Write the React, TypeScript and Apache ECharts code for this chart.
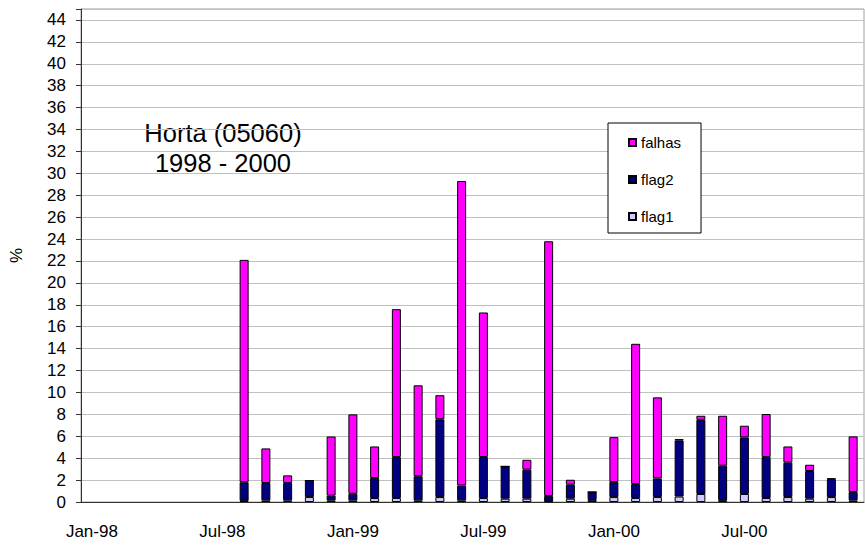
import React, { useEffect, useRef } from 'react';
import * as echarts from 'echarts';

const months = [
  'Jan-98', 'Feb-98', 'Mar-98', 'Apr-98', 'May-98', 'Jun-98', 'Jul-98', 'Aug-98', 'Sep-98', 'Oct-98', 'Nov-98', 'Dec-98',
  'Jan-99', 'Feb-99', 'Mar-99', 'Apr-99', 'May-99', 'Jun-99', 'Jul-99', 'Aug-99', 'Sep-99', 'Oct-99', 'Nov-99', 'Dec-99',
  'Jan-00', 'Feb-00', 'Mar-00', 'Apr-00', 'May-00', 'Jun-00', 'Jul-00', 'Aug-00', 'Sep-00', 'Oct-00', 'Nov-00', 'Dec-00',
];

const flag1 = [
  null, null, null, null, null, null, null, 0.1, 0.15, 0.15, 0.45, 0.15,
  0.15, 0.36, 0.36, 0.15, 0.45, 0.15, 0.36, 0.3, 0.3, 0.05, 0.3, 0.19,
  0.45, 0.36, 0.45, 0.5, 0.73, 0.17, 0.73, 0.36, 0.45, 0.3, 0.45, 0.15,
];

const flag2 = [
  null, null, null, null, null, null, null, 1.7, 1.58, 1.58, 1.5, 0.43,
  0.6, 1.83, 3.74, 2.2, 7.1, 1.35, 3.74, 2.95, 2.65, 0.5, 1.28, 0.72,
  1.37, 1.28, 1.7, 5.13, 6.77, 3.14, 5.17, 3.74, 3.14, 2.53, 1.64, 0.76,
];

const falhas = [
  null, null, null, null, null, null, null, 20.3, 3.16, 0.7, 0, 5.4,
  7.25, 2.88, 13.5, 8.3, 2.2, 27.8, 13.2, 0, 0.9, 23.25, 0.45, 0,
  4.1, 12.8, 7.4, 0.12, 0.37, 4.56, 1.06, 3.93, 1.48, 0.57, 0.06, 5.08,
];

const legendOrder = ['falhas', 'flag2', 'flag1'];
const titleLines = ['Horta (05060)', '1998 - 2000'];

const FONT = 'Liberation Sans, Arial, sans-serif';

export default function App() {
  const ref = useRef<HTMLDivElement>(null);
  useEffect(() => {
    if (!ref.current) return;
    const chart = echarts.init(ref.current, undefined, { renderer: 'svg' });
    const barStyle = (color: string) => ({
      color,
      borderColor: '#000',
      borderWidth: 1,
    });
    chart.setOption({
      animation: false,
      backgroundColor: '#fff',
      textStyle: { fontFamily: FONT },
      grid: {
        left: 73,
        top: 9,
        right: 1,
        bottom: 44,
        show: true,
        borderColor: '#a0a0a0',
        borderWidth: 1,
      },
      legend: {
        data: legendOrder,
        orient: 'vertical',
        left: 608,
        top: 123,
        itemWidth: 7,
        itemHeight: 7,
        itemGap: 22,
        padding: [12, 20, 9, 20],
        backgroundColor: '#fff',
        borderColor: '#000',
        borderWidth: 1,
        borderRadius: 0,
        icon: 'rect',
        textStyle: { fontFamily: FONT, fontSize: 15, color: '#000', lineHeight: 15 },
      },
      graphic: [
        {
          type: 'text',
          x: 223,
          y: 118,
          style: {
            text: titleLines.join('\n'),
            align: 'center',
            verticalAlign: 'top',
            fontFamily: FONT,
            fontSize: 25.5,
            lineHeight: 30,
            fill: '#000',
          },
        },
      ],
      xAxis: {
        type: 'category',
        data: months,
        boundaryGap: true,
        axisLine: { lineStyle: { color: '#333', width: 1 } },
        axisTick: { interval: 5, length: 6, lineStyle: { color: '#333' } },
        axisLabel: { interval: 5, fontSize: 17, color: '#000', margin: 21, fontFamily: FONT },
        splitLine: { show: false },
      },
      yAxis: {
        type: 'value',
        min: 0,
        max: 45,
        interval: 2,
        name: '%',
        nameLocation: 'middle',
        nameGap: 56,
        nameRotate: 90,
        nameTextStyle: { fontSize: 17, color: '#000', fontFamily: FONT },
        axisLine: { show: true, lineStyle: { color: '#333', width: 1 } },
        axisTick: { show: true, length: 5, lineStyle: { color: '#333' } },
        axisLabel: {
          fontSize: 17,
          color: '#000',
          margin: 15,
          fontFamily: FONT,
          formatter: (v: number) => (v % 2 === 0 ? String(v) : ''),
        },
        splitLine: { show: true, lineStyle: { color: '#c0c0c0', width: 1 } },
      },
      series: [
        { name: 'flag1', type: 'bar', stack: 'total', barWidth: 9, data: flag1, itemStyle: barStyle('#ccccff') },
        { name: 'flag2', type: 'bar', stack: 'total', barWidth: 9, data: flag2, itemStyle: barStyle('#000080') },
        { name: 'falhas', type: 'bar', stack: 'total', barWidth: 9, data: falhas, itemStyle: barStyle('#ff00ff') },
      ],
    });
    return () => chart.dispose();
  }, []);
  return <div ref={ref} style={{ position: 'fixed', left: 0, top: 0, width: 865, height: 546 }} />;
}
